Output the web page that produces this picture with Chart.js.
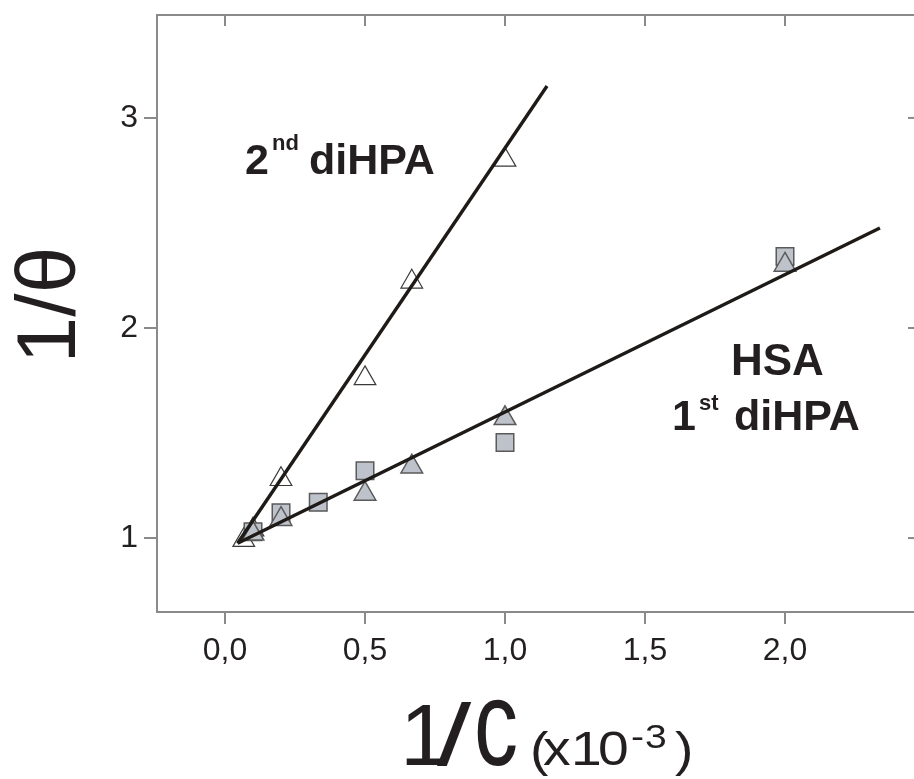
<!DOCTYPE html>
<html>
<head>
<meta charset="utf-8">
<script src="https://cdn.jsdelivr.net/npm/chart.js@4"></script>
<style>
  html, body { margin: 0; padding: 0; background: #ffffff; overflow: hidden; }
  canvas { display: block; }
</style>
</head>
<body>
<canvas id="c" width="914" height="779"></canvas>
<script>
// ---- data ----
const xTicks = [0.0, 0.5, 1.0, 1.5, 2.0];
const yTicks = [1, 2, 3];

// open triangles: 2nd diHPA
const secondX = [0.067, 0.1, 0.2, 0.5, 0.667, 1.0];
const secondY = [0.99, 1.04, 1.28, 1.76, 2.22, 2.80];

// grey triangles: 1st diHPA
const firstX = [0.1, 0.2, 0.5, 0.667, 1.0, 2.0];
const firstY = [1.02, 1.09, 1.21, 1.34, 1.57, 2.30];

// grey squares: HSA
const hsaX = [0.1, 0.2, 0.333, 0.5, 1.0, 2.0];
const hsaY = [1.03, 1.12, 1.17, 1.32, 1.455, 2.34];

// fitted lines (end points)
const steepLineX = [0.045, 1.15];
const steepLineY = [0.975, 3.152];
const shallowLineX = [0.045, 2.339];
const shallowLineY = [0.975, 2.476];

const pts = (xs, ys) => xs.map((x, i) => ({ x: x, y: ys[i] }));

const FONT = "'Liberation Sans', Arial, Helvetica, sans-serif";
const TEXT = '#231f20';
const AXIS = '#8a8a8a';

function zeroPad(s) {
  s.paddingTop = 0; s.paddingBottom = 0; s.paddingLeft = 0; s.paddingRight = 0;
}

// stretch the plot area to the right edge of the canvas, like the reference
const areaPlugin = {
  id: 'area',
  afterLayout(chart) {
    const a = chart.chartArea;
    const W = chart.width;
    const x = chart.scales.x;
    if (a.right < W) {
      a.right = W;
      a.width = W - a.left;
      x.right = W;
      x.width = W - x.left;
      x.configure();
    }
  }
};

const framePlugin = {
  id: 'frame',
  afterDraw(chart) {
    const ctx = chart.ctx;
    const a = chart.chartArea;
    const xs = chart.scales.x, ys = chart.scales.y;
    ctx.save();
    ctx.strokeStyle = AXIS;
    ctx.lineWidth = 2;
    ctx.beginPath();
    ctx.moveTo(a.left - 1, a.top);
    ctx.lineTo(a.right, a.top);
    ctx.stroke();
    xTicks.forEach(v => {
      const px = xs.getPixelForValue(v);
      ctx.beginPath();
      ctx.moveTo(px, a.top);
      ctx.lineTo(px, a.top + 11);
      ctx.stroke();
    });
    yTicks.forEach(v => {
      const py = ys.getPixelForValue(v);
      ctx.beginPath();
      ctx.moveTo(a.right, py);
      ctx.lineTo(a.right - 6, py);
      ctx.stroke();
    });
    ctx.restore();

    // annotations
    ctx.save();
    ctx.fillStyle = TEXT;
    ctx.textBaseline = 'alphabetic';
    ctx.textAlign = 'left';
    ctx.font = 'bold 43px ' + FONT;
    ctx.fillText('2', 245, 174);
    ctx.fillText('diHPA', 309, 174);
    ctx.font = 'bold 22px ' + FONT;
    ctx.fillText('nd', 272, 150);

    ctx.font = 'bold 44px ' + FONT;
    ctx.fillText('HSA', 731, 375);
    ctx.font = 'bold 43px ' + FONT;
    ctx.fillText('1', 672, 430);
    ctx.fillText('diHPA', 734, 430);
    ctx.font = 'bold 22px ' + FONT;
    ctx.fillText('st', 699, 410);

    // y axis title
    ctx.save();
    ctx.translate(75, 305);
    ctx.rotate(-Math.PI / 2);
    ctx.textAlign = 'center';
    ctx.font = '84px ' + FONT;
    ctx.fillText('1/\u03B8', 0, 0);
    ctx.restore();

    // x axis title
    ctx.font = '88px ' + FONT;
    ctx.fillText('1', 400, 765);
    ctx.save();
    ctx.translate(437, 765);
    ctx.scale(1.4, 1);
    ctx.fillText('/', 0, 0);
    ctx.restore();
    ctx.save();
    ctx.translate(474, 765);
    ctx.scale(1, 1.38);
    ctx.fillText('c', 0, 0);
    ctx.restore();

    const sx = 1.15;
    const piece = (t, x, y, size) => {
      ctx.save();
      ctx.translate(x, y);
      ctx.scale(sx, 1);
      ctx.font = size + 'px ' + FONT;
      ctx.fillText(t, 0, 0);
      ctx.restore();
    };
    piece('(', 530, 766, 48);
    piece('x', 543, 765, 48);
    piece('1', 571, 765, 48);
    piece('0', 598, 765, 48);
    piece('-', 631, 748, 34);
    piece('3', 645, 748, 34);
    piece(')', 675, 766, 48);
    ctx.restore();
  }
};

new Chart(document.getElementById('c'), {
  type: 'scatter',
  data: {
    datasets: [
      {
        label: 'fit 2nd',
        data: pts(steepLineX, steepLineY),
        showLine: true,
        pointRadius: 0,
        borderColor: '#1e1a17',
        borderWidth: 3.4,
        order: 0
      },
      {
        label: 'fit 1st',
        data: pts(shallowLineX, shallowLineY),
        showLine: true,
        pointRadius: 0,
        borderColor: '#1e1a17',
        borderWidth: 3.4,
        order: 0
      },
      {
        label: '1st diHPA',
        data: pts(firstX, firstY),
        pointStyle: 'triangle',
        pointRadius: 12.5,
        backgroundColor: '#bec2ca',
        borderColor: '#5a5a5a',
        borderWidth: 1.5,
        order: 1
      },
      {
        label: 'HSA',
        data: pts(hsaX, hsaY),
        pointStyle: 'rect',
        pointRadius: 12.4,
        backgroundColor: '#bec2ca',
        borderColor: '#5a5a5a',
        borderWidth: 1.5,
        order: 2
      },
      {
        label: '2nd diHPA',
        data: pts(secondX, secondY),
        pointStyle: 'triangle',
        pointRadius: 12.5,
        backgroundColor: '#ffffff',
        borderColor: '#3a3a3a',
        borderWidth: 1.2,
        order: 3
      }
    ]
  },
  options: {
    responsive: false,
    animation: false,
    events: [],
    layout: { padding: { top: 15, right: 0, left: 0, bottom: 0 } },
    plugins: { legend: { display: false }, tooltip: { enabled: false } },
    scales: {
      x: {
        type: 'linear',
        min: -0.2429,
        max: 2.4607,
        afterBuildTicks: s => { s.ticks = xTicks.map(v => ({ value: v })); },
        afterFit: s => { s.height = 167; zeroPad(s); },
        grid: { drawOnChartArea: false, drawTicks: true, tickLength: 12, color: AXIS, lineWidth: 2 },
        border: { color: AXIS, width: 2 },
        ticks: {
          padding: 8,
          color: TEXT,
          font: { family: FONT, size: 32 },
          callback: v => Number(v).toFixed(1).replace('.', ',')
        }
      },
      y: {
        type: 'linear',
        min: 0.648,
        max: 3.49,
        afterBuildTicks: s => { s.ticks = yTicks.map(v => ({ value: v })); },
        afterFit: s => { s.width = 157; zeroPad(s); },
        grid: { drawOnChartArea: false, drawTicks: true, tickLength: 13, color: AXIS, lineWidth: 2 },
        border: { color: AXIS, width: 2 },
        ticks: {
          padding: 6,
          color: TEXT,
          font: { family: FONT, size: 32 },
          callback: v => String(v)
        }
      }
    }
  },
  plugins: [areaPlugin, framePlugin]
});
</script>
</body>
</html>
